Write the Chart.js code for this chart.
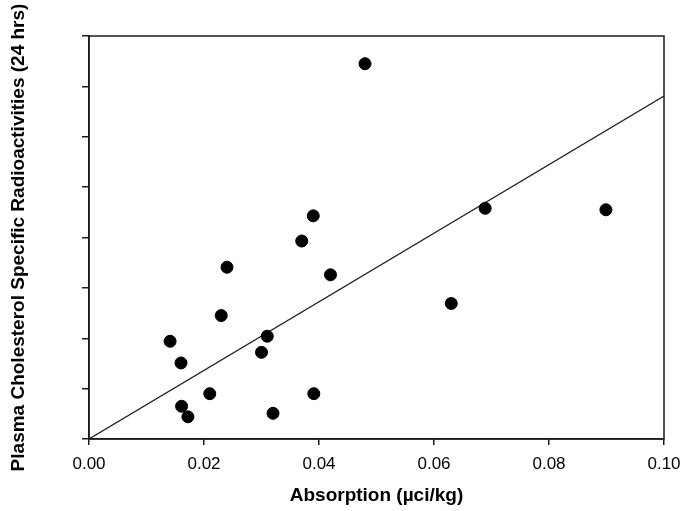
<!DOCTYPE html>
<html>
<head>
<meta charset="utf-8">
<script src="https://cdn.jsdelivr.net/npm/chart.js@4"></script>
<style>
  html, body { margin: 0; padding: 0; background: #fff; }
  #wrap { width: 685px; height: 511px; }
</style>
</head>
<body>
<div id="wrap"><canvas id="chart" width="685" height="511"></canvas></div>
<script>
// absorption (x) and plasma cholesterol specific radioactivity (y)
const absorption = [0.0141, 0.0160, 0.0161, 0.0172, 0.0210, 0.0230, 0.0240, 0.0300, 0.0310, 0.0320,
                    0.0370, 0.0390, 0.0391, 0.0420, 0.0480, 0.0630, 0.0689, 0.0899];
const radioactivity = [1.94, 1.51, 0.65, 0.44, 0.90, 2.45, 3.41, 1.72, 2.04, 0.51,
                       3.93, 4.43, 0.90, 3.26, 7.45, 2.69, 4.58, 4.55];
// regression line end points
const fitX = [0, 0.1];
const fitY = [0, 6.81];
const xTicks = [0, 0.02, 0.04, 0.06, 0.08, 0.10];

const ink = '#1a1a1a';
const font = "'Liberation Sans', Arial, sans-serif";

// box around the plotting area
const frame = {
  id: 'frame',
  afterDraw(c) {
    const a = c.chartArea, ctx = c.ctx;
    ctx.save();
    ctx.strokeStyle = ink;
    ctx.lineWidth = 1.5;
    ctx.strokeRect(a.left, a.top, a.right - a.left, a.bottom - a.top);
    ctx.restore();
  }
};

new Chart(document.getElementById('chart'), {
  type: 'scatter',
  data: {
    datasets: [{
      data: absorption.map((x, i) => ({ x: x, y: radioactivity[i] })),
      backgroundColor: '#000',
      borderColor: '#000',
      pointRadius: 6,
      pointHoverRadius: 6
    }, {
      type: 'line',
      data: fitX.map((x, i) => ({ x: x, y: fitY[i] })),
      borderColor: ink,
      borderWidth: 1.2,
      pointRadius: 0,
      fill: false
    }]
  },
  options: {
    responsive: false,
    animation: false,
    layout: { padding: { top: 36, right: 21, left: 0, bottom: 0 } },
    plugins: { legend: { display: false }, tooltip: { enabled: false } },
    scales: {
      x: {
        type: 'linear',
        min: 0,
        max: 0.1,
        afterBuildTicks: s => { s.ticks = xTicks.map(v => ({ value: v })); },
        afterFit: s => { s.height = 72; s.paddingLeft = 0; s.paddingRight = 0; },
        grid: { display: true, drawOnChartArea: false, drawTicks: true, tickLength: 6, color: ink, lineWidth: 1.5 },
        border: { display: true, color: ink, width: 1.5 },
        ticks: {
          color: '#000',
          padding: 9,
          maxRotation: 0,
          font: { family: font, size: 17 },
          callback: v => v.toFixed(2)
        },
        title: {
          display: true,
          text: 'Absorption (µci/kg)',
          color: '#000',
          font: { family: font, size: 19, weight: 'bold' },
          padding: { top: 0, bottom: 4 }
        }
      },
      y: {
        min: 0,
        max: 8,
        afterFit: s => { s.width = 89; },
        grid: { display: true, drawOnChartArea: false, drawTicks: true, tickLength: 7, color: ink, lineWidth: 1.5 },
        border: { display: true, color: ink, width: 1.5 },
        ticks: { stepSize: 1, display: false },
        title: {
          display: true,
          text: 'Plasma Cholesterol Specific Radioactivities (24 hrs)',
          color: '#000',
          font: { family: font, size: 19, weight: 'bold' },
          padding: { top: 7, bottom: 0 }
        }
      }
    }
  },
  plugins: [frame]
});
</script>
</body>
</html>
